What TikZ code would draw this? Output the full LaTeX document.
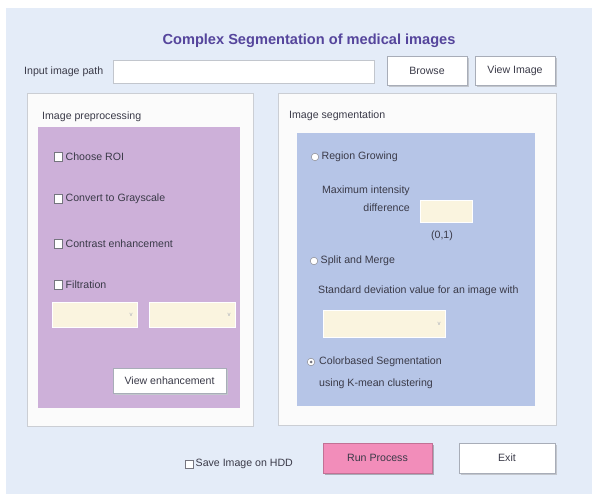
\documentclass[tikz,border=0pt]{standalone}
\usepackage{fontspec}
\setmainfont{Liberation Sans}
\usetikzlibrary{positioning}
\definecolor{bgblue}{HTML}{E4ECF8}
\definecolor{panelw}{HTML}{FBFBFB}
\definecolor{purp}{HTML}{CDB0D9}
\definecolor{segblue}{HTML}{B6C5E7}
\definecolor{titlec}{HTML}{55459C}
\definecolor{cream}{HTML}{FAF4DF}
\definecolor{pinkb}{HTML}{F28DBA}
\definecolor{txt}{HTML}{3A3A48}
\definecolor{shad}{HTML}{A8ADB8}
\begin{document}
\begin{tikzpicture}[x=1pt,y=-1pt,
  lbl/.style={anchor=west,inner sep=0pt,text=txt,font=\fontsize{10.6}{18}\selectfont},
  btn/.style={draw=shad,fill=white,text=txt,font=\fontsize{10.6}{12}\selectfont,inner sep=0pt},
  fld/.style={draw=white,fill=cream,inner sep=0pt},
  chk/.style={draw=txt!70,fill=white,minimum size=8.5pt,inner sep=0pt,line width=0.5pt},
  rad/.style={circle,draw=txt!60,fill=white,minimum size=7.5pt,inner sep=0pt,line width=0.5pt},
  panel/.style={fill=panelw,draw=shad!60,line width=0.6pt},
  shadow/.style={fill=shad!70,draw=none}]
\useasboundingbox (0,0) rectangle (592,494);
\fill[white] (0,0) rectangle (592,494);
\fill[bgblue] (6,8) rectangle (592,494);
% title
\node[font=\bfseries\fontsize{14.6}{16}\selectfont,text=titlec] (title) at (309,41) {Complex Segmentation of medical images};
% input row
\node[lbl] (inlbl) at (24,72) {Input image path};
\node[draw=shad!70,fill=white,minimum width=261pt,minimum height=23pt,inner sep=0pt] (path) at (243.5,71.5) {};
\fill[shadow] (389,58) rectangle (469,87);
\node[btn,minimum width=80pt,minimum height=29pt] (browse) at (427,70.5) {Browse};
\fill[shadow] (477,58) rectangle (557,87);
\node[btn,minimum width=80pt,minimum height=29pt] (view) at (515,70.5) {View Image};
% left panel
\node[panel,minimum width=226pt,minimum height=333pt,inner sep=0pt] (lpanel) at (140,259.5) {};
\node[lbl] (lptitle) at (42,117) {Image preprocessing};
\node[fill=purp,minimum width=202pt,minimum height=281pt,inner sep=0pt] (purparea) at (139,267.5) {};
\node[chk] (c1) at (58,157) {};
\node[lbl,right=3pt of c1] (t1) {Choose ROI};
\node[chk] (c2) at (58,199) {};
\node[lbl,right=3pt of c2] (t2) {Convert to Grayscale};
\node[chk] (c3) at (58,244) {};
\node[lbl,right=3pt of c3] (t3) {Contrast enhancement};
\node[chk] (c4) at (58,285) {};
\node[lbl,right=3pt of c4] (t4) {Filtration};
\node[fld,minimum width=85pt,minimum height=25pt] (dd1) at (94.5,314.5) {};
\node[font=\fontsize{6}{6}\selectfont,text=shad,anchor=east] (dd1a) at (dd1.east) {\,v\,};
\node[fld,minimum width=86pt,minimum height=25pt] (dd2) at (192,314.5) {};
\node[font=\fontsize{6}{6}\selectfont,text=shad,anchor=east] (dd2a) at (dd2.east) {\,v\,};
\fill[shadow] (115,370) rectangle (228,395);
\node[btn,minimum width=113pt,minimum height=25pt] (viewenh) at (169.5,380.5) {View enhancement};
% right panel
\node[panel,minimum width=278pt,minimum height=332pt,inner sep=0pt] (rpanel) at (417,259) {};
\node[lbl] (rptitle) at (289,116) {Image segmentation};
\node[fill=segblue,minimum width=238pt,minimum height=273pt,inner sep=0pt] (bluearea) at (416,269.5) {};
\node[rad] (r1) at (315,157) {};
\node[lbl,right=2.5pt of r1] (rt1) {Region Growing};
\node[lbl,anchor=east,align=right] (maxint) at (410,199) {Maximum intensity\\difference};
\node[fld,minimum width=52pt,minimum height=22pt] (intfld) at (446,211) {};
\node[lbl,anchor=center] (range) at (442,236) {(0,1)};
\node[rad] (r2) at (314,261) {};
\node[lbl,right=2.5pt of r2] (rt2) {Split and Merge};
\node[lbl] (stdlbl) at (318,291) {Standard deviation value for an image with};
\node[fld,minimum width=122pt,minimum height=27pt] (dd3) at (384,323.5) {};
\node[font=\fontsize{6}{6}\selectfont,text=shad,anchor=east] (dd3a) at (dd3.east) {\,v\,};
\node[rad] (r3) at (311,362) {};
\fill[txt!70] (r3) circle (1.5pt);
\node[lbl,anchor=west,align=left,font=\fontsize{10.6}{22}\selectfont] (rt3) at (319,373) {Colorbased Segmentation\\using K-mean clustering};
% bottom
\node[chk] (csave) at (189,464) {};
\node[lbl,right=2pt of csave] (tsave) {Save Image on HDD};
\fill[shad] (325,445) rectangle (434,475);
\node[draw=pinkb!80!black,fill=pinkb,text=txt,font=\fontsize{10.6}{12}\selectfont,minimum width=109pt,minimum height=30pt,inner sep=0pt] (run) at (377.5,458) {Run Process};
\fill[shadow] (461,445) rectangle (557,475);
\node[btn,minimum width=96pt,minimum height=30pt] (exit) at (507,458) {Exit};
\end{tikzpicture}
\end{document}
